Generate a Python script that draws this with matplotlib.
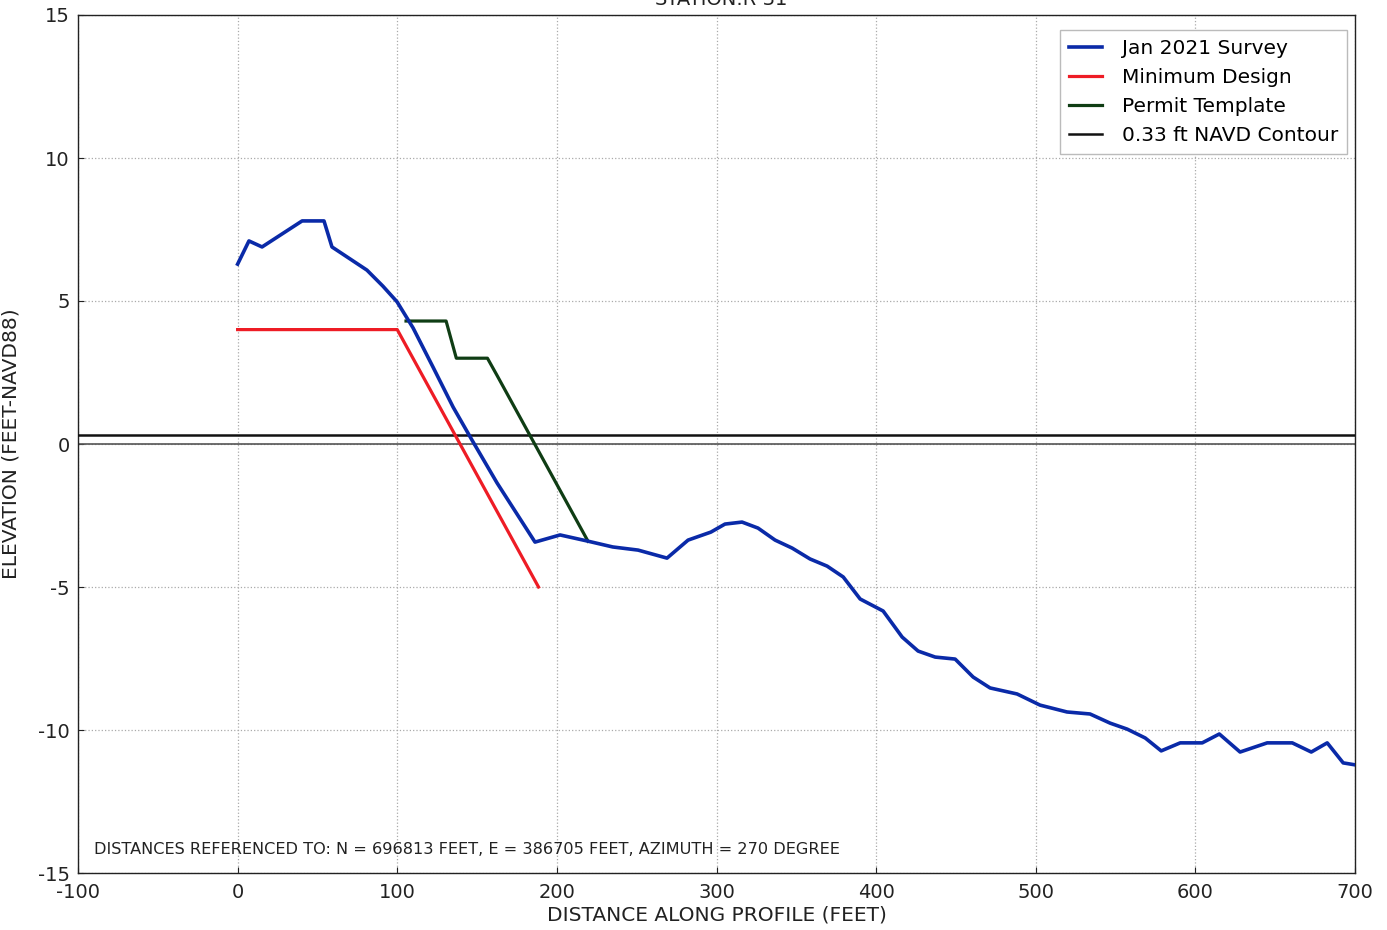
import matplotlib
matplotlib.use("Agg")
import matplotlib.pyplot as plt
import numpy as np

# Survey profile (Jan 2021)
survey_x = [0, 7.1, 15.3, 40.4, 54.1, 59.1, 81, 91, 99.9, 109.9, 122.4, 135, 146.8,
            162.5, 186.3, 202, 218.9, 235, 250.9, 269, 282.2, 296.5, 305.3, 316, 326,
            336.7, 347.4, 358.6, 369.3, 379.4, 390, 404.4, 416.3, 426.3, 437, 449.5,
            460.8, 471.4, 488.3, 502.7, 519.6, 534, 546.6, 557.3, 568.6, 578.6, 590.5,
            604.3, 615, 628, 645, 660.7, 672.6, 682.6, 692.6, 700.2]
survey_y = [6.29, 7.1, 6.89, 7.8, 7.8, 6.89, 6.08, 5.52, 4.97, 4.06, 2.69, 1.29, 0.14,
            -1.36, -3.43, -3.18, -3.39, -3.6, -3.71, -3.99, -3.36, -3.08, -2.8, -2.73, -2.94,
            -3.36, -3.64, -4.02, -4.27, -4.65, -5.42, -5.84, -6.75, -7.24, -7.45, -7.52,
            -8.15, -8.53, -8.74, -9.13, -9.37, -9.44, -9.76, -9.97, -10.28, -10.73, -10.45,
            -10.45, -10.14, -10.77, -10.45, -10.45, -10.77, -10.45, -11.15, -11.22]

# Minimum design
design_x = [0, 100, 188.5]
design_y = [4.0, 4.0, -5.0]

# Permit template
permit_x = [105.5, 130.6, 137, 156.5, 162.5, 219.5]
permit_y = [4.3, 4.3, 3.0, 3.0, 2.4, -3.4]

contour_level = 0.33

x_ticks = [-100, 0, 100, 200, 300, 400, 500, 600, 700]
y_ticks = [-15, -10, -5, 0, 5, 10, 15]

plt.rcParams['font.family'] = ['DejaVu Sans']
plt.rcParams['axes.unicode_minus'] = False

fig = plt.figure(figsize=(13.87, 9.3), dpi=100)
ax = fig.add_axes([78/1387, 1-873/930, (1355-78)/1387, (873-15)/930])

ax.axhline(0, color='#555555', lw=1.2, zorder=2)
ax.plot(survey_x, survey_y, color='#0a2aa8', lw=2.6, label='Jan 2021 Survey', zorder=5)
ax.plot(design_x, design_y, color='#ee1c25', lw=2.3, label='Minimum Design', zorder=4)
ax.plot(permit_x, permit_y, color='#0f3d14', lw=2.3, label='Permit Template', zorder=4)
ax.axhline(contour_level, color='#111111', lw=1.8, label='0.33 ft NAVD Contour', zorder=3)

ax.set_xlim(-100, 700)
ax.set_ylim(-15, 15)
ax.set_xticks(x_ticks)
ax.set_yticks(y_ticks)
ax.tick_params(axis='both', labelsize=14, direction='in', length=4, width=0.8,
               colors='#222222')
ax.tick_params(axis='x', pad=7)
ax.tick_params(axis='y', pad=6)
ax.grid(True, linestyle=':', color='#aaaaaa', lw=0.9)
for s in ax.spines.values():
    s.set_color('#222222')
    s.set_linewidth(1.0)

ax.set_xlabel('DISTANCE ALONG PROFILE (FEET)', fontsize=14.5, color='#222222', labelpad=3)
ax.set_ylabel('ELEVATION (FEET-NAVD88)', fontsize=14.5, color='#222222', labelpad=8)
ax.yaxis.set_label_coords(-0.045, 0.5)

ax.text(0.0125, 0.027, 'DISTANCES REFERENCED TO: N = 696813 FEET, E = 386705 FEET, AZIMUTH = 270 DEGREE',
        transform=ax.transAxes, fontsize=11.65, family=['Liberation Sans Narrow', 'DejaVu Sans'],
        color='#222222', va='center', ha='left')

fig.text(0.52, 1 - 5/930, 'STATION:R-31', fontsize=14, ha='center', va='baseline', color='#222222')

leg = ax.legend(loc='upper right', fontsize=14.5, frameon=True, fancybox=False,
                edgecolor='#bbbbbb', framealpha=1, handlelength=1.6, handletextpad=1.0,
                borderpad=0.45, labelspacing=0.5, borderaxespad=0,
                bbox_to_anchor=(0.9937, 0.9825))

fig.savefig('out.png', dpi=100)
